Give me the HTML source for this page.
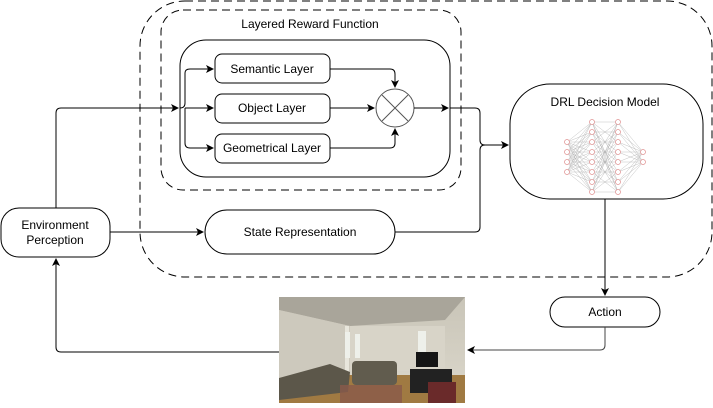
<!DOCTYPE html>
<html><head><style>
body{margin:0;width:713px;height:403px;overflow:hidden;background:#fff;font-family:"Liberation Sans",sans-serif}
</style></head><body>
<svg width="713" height="403" viewBox="0 0 713 403" xmlns="http://www.w3.org/2000/svg" font-family="Liberation Sans, sans-serif" font-size="12">
<defs>
<marker id="a" markerWidth="8" markerHeight="8" refX="7" refY="4" orient="auto" markerUnits="userSpaceOnUse"><path d="M0,0 L8,4 L0,8 L2,4z" fill="#000"/></marker>
<linearGradient id="wall" x1="0" y1="0" x2="0" y2="1"><stop offset="0" stop-color="#c9c5b8"/><stop offset="1" stop-color="#dcd8cc"/></linearGradient>
</defs>
<g fill="none" stroke="#000" stroke-width="1">
<rect x="140" y="1" width="572" height="276" rx="45" stroke-dasharray="8,5"/>
<rect x="161" y="10" width="300" height="180" rx="22" stroke-dasharray="8,5"/>
<rect x="180" y="40" width="270" height="137" rx="26"/>
<rect x="215" y="54" width="115" height="29" rx="7"/>
<rect x="215" y="94" width="115" height="29" rx="7"/>
<rect x="215" y="134" width="115" height="29" rx="7"/>
<circle cx="395" cy="108" r="19" stroke="#555"/>
<path d="M382,95 L408,121 M408,95 L382,121" stroke="#555"/>
<rect x="510" y="84" width="193" height="115" rx="40"/>
<rect x="205" y="210" width="190" height="44" rx="22"/>
<rect x="1" y="208" width="109" height="49" rx="18"/>
<rect x="550" y="297" width="110" height="30" rx="15"/>
<path d="M56,208 V113 Q56,108 61,108 H178" marker-end="url(#a)"/>
<path d="M180,108 Q185,108 185,103 V73 Q185,69 190,69 H213" marker-end="url(#a)"/>
<path d="M185,108 H213" marker-end="url(#a)"/>
<path d="M185,108 V143 Q185,148 190,148 H213" marker-end="url(#a)"/>
<path d="M330,69 H390 Q395,69 395,74 V87" marker-end="url(#a)"/>
<path d="M330,108 H374" marker-end="url(#a)"/>
<path d="M330,148 H390 Q395,148 395,143 V129" marker-end="url(#a)"/>
<path d="M414,108 H448" marker-end="url(#a)"/>
<path d="M450,108 H475 Q480,108 480,113 V140 Q480,145 485,145 H508" marker-end="url(#a)"/>
<path d="M395,232 H475 Q480,232 480,227 V150 Q480,145 485,145"/>
<path d="M110,232 H203" marker-end="url(#a)"/>
<path d="M605,199 V295" marker-end="url(#a)"/>
<path d="M605,327 V345 Q605,350 600,350 H468" marker-end="url(#a)" stroke="#444"/>
<path d="M279,352 H61 Q56,352 56,347 V259" marker-end="url(#a)"/>
</g>
<g fill="#000" text-anchor="middle">
<text x="310" y="28">Layered Reward Function</text>
<text x="272" y="73">Semantic Layer</text>
<text x="272" y="112">Object Layer</text>
<text x="272" y="152">Geometrical Layer</text>
<text x="605" y="106">DRL Decision Model</text>
<text x="300" y="236">State Representation</text>
<text x="55" y="229">Environment</text>
<text x="55" y="244">Perception</text>
<text x="605" y="316">Action</text>
</g>
<g stroke="#999" stroke-width="0.3" fill="none">
<path d="M567,142 L592,122 M567,142 L592,132 M567,142 L592,142 M567,142 L592,152 M567,142 L592,162 M567,142 L592,172 M567,142 L592,182 M567,142 L592,192"/>
<path d="M567,152 L592,122 M567,152 L592,132 M567,152 L592,142 M567,152 L592,152 M567,152 L592,162 M567,152 L592,172 M567,152 L592,182 M567,152 L592,192"/>
<path d="M567,162 L592,122 M567,162 L592,132 M567,162 L592,142 M567,162 L592,152 M567,162 L592,162 M567,162 L592,172 M567,162 L592,182 M567,162 L592,192"/>
<path d="M567,172 L592,122 M567,172 L592,132 M567,172 L592,142 M567,172 L592,152 M567,172 L592,162 M567,172 L592,172 M567,172 L592,182 M567,172 L592,192"/>
<path d="M592,122 L618,122 M592,122 L618,142 M592,122 L618,162 M592,122 L618,182 M592,122 L618,192 M592,132 L618,132 M592,132 L618,152 M592,132 L618,172 M592,132 L618,192 M592,142 L618,122 M592,142 L618,142 M592,142 L618,162 M592,142 L618,182 M592,152 L618,132 M592,152 L618,152 M592,152 L618,172 M592,152 L618,192 M592,162 L618,122 M592,162 L618,142 M592,162 L618,162 M592,162 L618,182 M592,172 L618,132 M592,172 L618,152 M592,172 L618,172 M592,172 L618,192 M592,182 L618,122 M592,182 L618,142 M592,182 L618,162 M592,182 L618,182 M592,192 L618,122 M592,192 L618,132 M592,192 L618,152 M592,192 L618,172 M592,192 L618,192"/>
<path d="M618,122 L643,152 M618,132 L643,152 M618,142 L643,152 M618,152 L643,152 M618,162 L643,152 M618,172 L643,152 M618,182 L643,152 M618,192 L643,152 M618,122 L643,162 M618,132 L643,162 M618,142 L643,162 M618,152 L643,162 M618,162 L643,162 M618,172 L643,162 M618,182 L643,162 M618,192 L643,162"/>
</g>
<g fill="#fff" stroke="#e09090" stroke-width="0.7">
<circle cx="567" cy="142" r="2.5"/><circle cx="567" cy="152" r="2.5"/><circle cx="567" cy="162" r="2.5"/><circle cx="567" cy="172" r="2.5"/>
<circle cx="592" cy="122" r="2.5"/><circle cx="592" cy="132" r="2.5"/><circle cx="592" cy="142" r="2.5"/><circle cx="592" cy="152" r="2.5"/><circle cx="592" cy="162" r="2.5"/><circle cx="592" cy="172" r="2.5"/><circle cx="592" cy="182" r="2.5"/><circle cx="592" cy="192" r="2.5"/>
<circle cx="618" cy="122" r="2.5"/><circle cx="618" cy="132" r="2.5"/><circle cx="618" cy="142" r="2.5"/><circle cx="618" cy="152" r="2.5"/><circle cx="618" cy="162" r="2.5"/><circle cx="618" cy="172" r="2.5"/><circle cx="618" cy="182" r="2.5"/><circle cx="618" cy="192" r="2.5"/>
<circle cx="643" cy="152" r="2.5"/><circle cx="643" cy="162" r="2.5"/>
</g>
<g>
<rect x="279" y="297" width="186" height="106" fill="url(#wall)"/>
<polygon points="279,297 465,297 445,320 350,326 279,310" fill="#a9a59a"/>
<polygon points="279,310 350,326 350,375 279,380" fill="#cdc9bd"/>
<rect x="350" y="326" width="95" height="45" fill="#d8d4c8"/>
<rect x="345" y="326" width="4" height="50" fill="#e8e6dc"/>
<rect x="345" y="332" width="5" height="26" fill="#eef0ea"/>
<rect x="355" y="334" width="5" height="24" fill="#eef0ea"/>
<rect x="418" y="331" width="8" height="26" fill="#eef0ea"/>
<polygon points="279,385 340,375 465,375 465,403 279,403" fill="#a07a42"/>
<rect x="416" y="352" width="22" height="15" fill="#151515"/>
<rect x="410" y="369" width="42" height="24" fill="#222"/>
<polygon points="279,378 330,364 350,372 348,392 279,400" fill="#5c574a"/>
<rect x="352" y="361" width="45" height="24" rx="4" fill="#615c4e"/>
<rect x="340" y="385" width="62" height="18" fill="#8a5a4a" opacity="0.8"/>
<rect x="428" y="382" width="28" height="21" fill="#6a2a2a"/>
</g>
</svg>
</body></html>
